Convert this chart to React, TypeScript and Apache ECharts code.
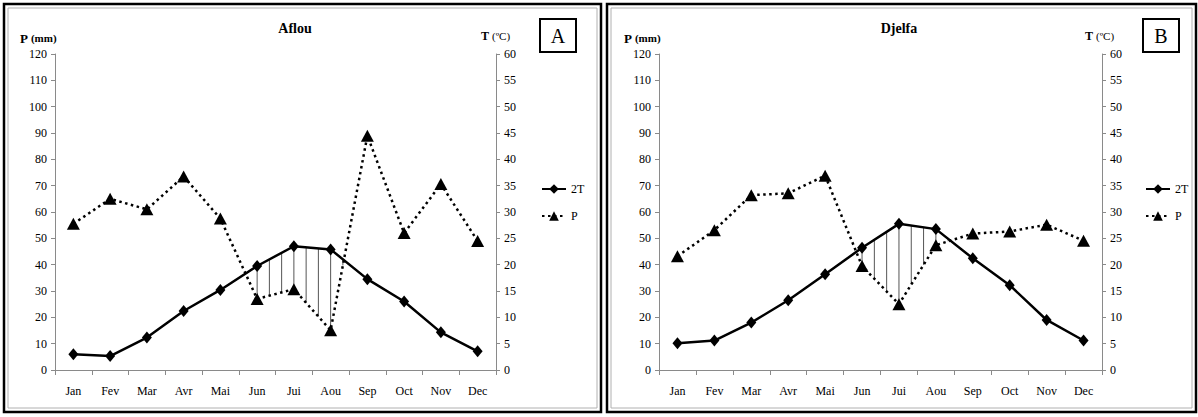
import React, { useEffect, useRef } from "react";
import * as echarts from "echarts";

const months = ["Jan", "Fev", "Mar", "Avr", "Mai", "Jun", "Jui", "Aou", "Sep", "Oct", "Nov", "Dec"];
const aflou2T = [6, 5.3, 12.3, 22.4, 30.4, 39.5, 47, 45.8, 34.5, 26, 14.3, 7.1];
const aflouP = [55.5, 65, 61, 73.5, 57.5, 27, 30.7, 15.1, 89, 52, 70.6, 49];
const djelfa2T = [10.2, 11.2, 18, 26.5, 36.4, 46.4, 55.5, 53.5, 42.4, 32.2, 19, 11.2];
const djelfaP = [43.2, 53.1, 66.4, 67.1, 73.8, 39.5, 25, 47.4, 51.8, 52.6, 55.2, 49.1];
const titles = ["Aflou", "Djelfa"];
const letters = ["A", "B"];

const FONT = '"Times New Roman", "Liberation Serif", "DejaVu Serif", serif';

function hatch(t: number[], p: number[]) {
  return (params: any, api: any) => {
    const i = params.dataIndex;
    if (i >= t.length - 1) return { type: "group", children: [] };
    const a0 = api.coord([i, t[i]]);
    const a1 = api.coord([i + 1, t[i + 1]]);
    const b0 = api.coord([i, p[i]]);
    const b1 = api.coord([i + 1, p[i + 1]]);
    const fracs = i === t.length - 2 ? [0, 1 / 3, 2 / 3, 1] : [0, 1 / 3, 2 / 3];
    const children: any[] = [];
    for (const f of fracs) {
      const x = a0[0] + (a1[0] - a0[0]) * f;
      const yT = a0[1] + (a1[1] - a0[1]) * f;
      const yP = b0[1] + (b1[1] - b0[1]) * f;
      if (yP - yT > 2) {
        children.push({
          type: "line",
          shape: { x1: x, y1: yT, x2: x, y2: yP },
          style: { stroke: "#555", lineWidth: 1 },
        });
      }
    }
    return { type: "group", children };
  };
}

export default function App() {
  const ref = useRef<HTMLDivElement>(null);
  useEffect(() => {
    if (!ref.current) return;
    const chart = echarts.init(ref.current, undefined, { renderer: "svg" });
    const offs = [0, 604];
    const grids = [
      { left: 55, width: 441, top: 54, height: 316 },
      { left: 659, width: 443, top: 54, height: 316 },
    ];
    const axisLine = { show: true, lineStyle: { color: "#8a8a8a", width: 1 } };
    const label = { color: "#000", fontFamily: FONT, fontSize: 12 };
    const xAxis: any[] = [];
    const yAxis: any[] = [];
    grids.forEach((_, g) => {
      xAxis.push({
        type: "category",
        gridIndex: g,
        data: months,
        boundaryGap: true,
        axisLine,
        axisTick: { show: true, inside: false, length: 5, lineStyle: { color: "#8a8a8a" } },
        axisLabel: { ...label, margin: 15, interval: 0 },
        splitLine: { show: false },
      });
      yAxis.push({
        type: "value",
        gridIndex: g,
        position: "left",
        min: 0,
        max: 120,
        interval: 10,
        axisLine,
        axisTick: { show: true, length: 4, lineStyle: { color: "#8a8a8a" } },
        axisLabel: { ...label, margin: 8 },
        splitLine: { show: false },
      });
      yAxis.push({
        type: "value",
        gridIndex: g,
        position: "right",
        min: 0,
        max: 60,
        interval: 5,
        axisLine,
        axisTick: { show: true, length: 4, lineStyle: { color: "#8a8a8a" } },
        axisLabel: { ...label, margin: 8 },
        splitLine: { show: false },
      });
    });
    const sets = [
      { t: aflou2T, p: aflouP },
      { t: djelfa2T, p: djelfaP },
    ];
    const series: any[] = [];
    sets.forEach((s, g) => {
      series.push({
        type: "custom",
        name: "hatch" + g,
        xAxisIndex: g,
        yAxisIndex: g * 2,
        data: s.t.map((v, i) => [i, v]),
        renderItem: hatch(s.t, s.p),
        z: 1,
        silent: true,
      });
      series.push({
        type: "line",
        name: "2T",
        xAxisIndex: g,
        yAxisIndex: g * 2,
        data: s.t,
        symbol: "diamond",
        symbolSize: [10, 12],
        lineStyle: { color: "#000", width: 2.5 },
        itemStyle: { color: "#000" },
        z: 3,
      });
      series.push({
        type: "line",
        name: "P",
        xAxisIndex: g,
        yAxisIndex: g * 2,
        data: s.p,
        symbol: "triangle",
        symbolSize: [13, 12],
        lineStyle: { color: "#000", width: 2.5, type: [2.5, 3.5] },
        itemStyle: { color: "#000" },
        z: 3,
      });
    });
    const legend = [536, 1140].map((x) => ({
      left: x,
      top: 178,
      orient: "vertical",
      data: ["2T", "P"],
      itemWidth: 24,
      itemHeight: 12,
      itemGap: 15,
      selectedMode: false,
      textStyle: { color: "#000", fontFamily: FONT, fontSize: 12 },
    }));
    const graphic: any[] = [];
    offs.forEach((o, g) => {
      const w = g === 0 ? 597 : 589;
      graphic.push({
        type: "rect",
        shape: { x: 4 + (g === 0 ? 0 : 603), y: 4, width: w, height: 408 },
        style: { fill: "none", stroke: "#000", lineWidth: 2.5 },
      });
      graphic.push({
        type: "rect",
        shape: { x: 8 + (g === 0 ? 0 : 603), y: 8, width: w - 8, height: 400 },
        style: { fill: "none", stroke: "#b0b0b0", lineWidth: 1 },
      });
      graphic.push({
        type: "text",
        x: 295 + o,
        y: 28,
        style: {
          text: titles[g],
          fontFamily: FONT,
          fontWeight: "bold",
          fontSize: 14,
          fill: "#000",
          align: "center",
          verticalAlign: "middle",
        },
      });
      graphic.push({
        type: "text",
        x: 20 + o,
        y: 38,
        style: {
          text: "{a|P} {b|(mm)}",
          fontFamily: FONT,
          fill: "#000",
          verticalAlign: "middle",
          rich: {
            a: { fontFamily: FONT, fontWeight: "bold", fontSize: 13 },
            b: { fontFamily: FONT, fontWeight: "bold", fontSize: 11 },
          },
        },
      });
      graphic.push({
        type: "text",
        x: 481 + o,
        y: 36,
        style: {
          text: "{a|T} {b|(ºC)}",
          fontFamily: FONT,
          fill: "#000",
          verticalAlign: "middle",
          rich: {
            a: { fontFamily: FONT, fontWeight: "bold", fontSize: 12 },
            b: { fontFamily: FONT, fontSize: 11 },
          },
        },
      });
      const bx = g === 0 ? 540 : 1143;
      graphic.push({
        type: "rect",
        shape: { x: bx, y: 19, width: 36, height: 33 },
        style: { fill: "#fff", stroke: "#000", lineWidth: 2 },
      });
      graphic.push({
        type: "text",
        x: bx + 18,
        y: 36,
        style: {
          text: letters[g],
          fontFamily: FONT,
          fontSize: 20,
          fill: "#000",
          align: "center",
          verticalAlign: "middle",
        },
      });
    });
    chart.setOption({
      animation: false,
      backgroundColor: "#fff",
      textStyle: { fontFamily: FONT },
      grid: grids,
      xAxis,
      yAxis,
      series,
      legend,
      graphic,
    });
    return () => chart.dispose();
  }, []);
  return (
    <div
      ref={ref}
      style={{ position: "absolute", left: 0, top: 0, width: 1198, height: 417 }}
    />
  );
}
